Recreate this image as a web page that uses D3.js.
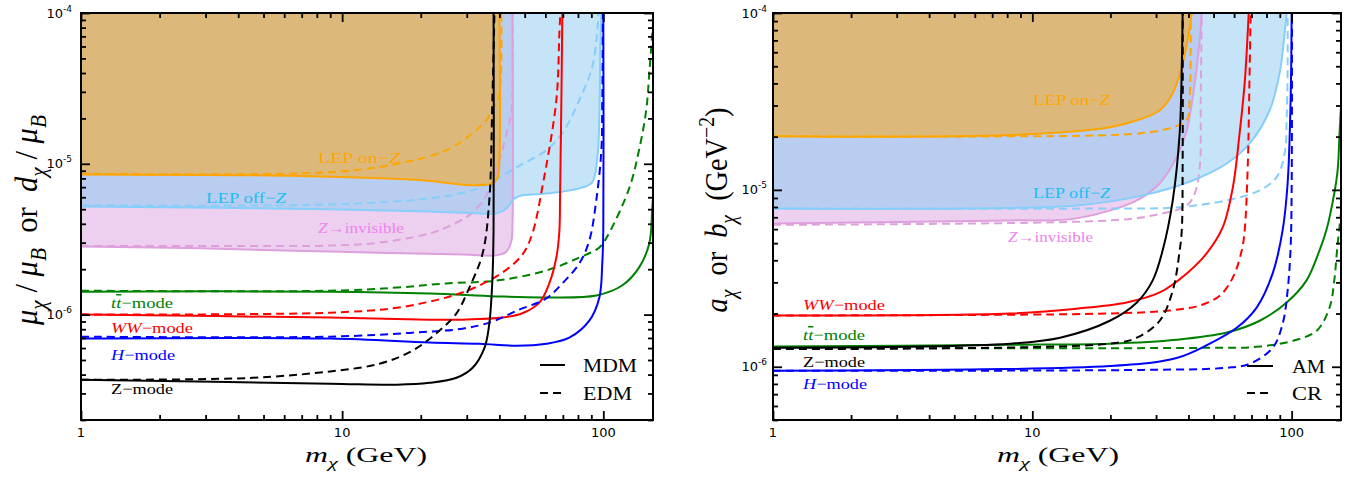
<!DOCTYPE html>
<html>
<head>
<meta charset="utf-8">
<script src="https://cdn.jsdelivr.net/npm/d3@7"></script>
<style>
  body { margin: 0; background: #fff; }
  svg { display: block; }
</style>
</head>
<body>
<svg id="chart" width="1363" height="482"></svg>
<script>
// ---------- axis data ----------
const massDomain = [1, 155];
const leftValueDomain = [2e-7, 1e-4];
const rightValueDomain = [5e-7, 1e-4];
const massMajorTicks = [1, 10, 100];
const massTickLabels = ["1", "10", "100"];
const valueMajorTicks = [1e-6, 1e-5, 1e-4];
const valueTickExponents = ["-6", "-5", "-4"];

// ---------- left panel: [m (GeV), coupling]  MDM = solid, EDM = dashed ----------
const lepOnZMdm = [[1,8.5e-6],[6.9,8.3e-6],[19.8,7.8e-6],[31.6,7.2e-6],[37.3,7.4e-6],[39.3,8.0e-6],[40,1.05e-5],[40,1e-4]];
const lepOnZEdm = [[1,8.6e-6],[9,8.8e-6],[16.2,1.0e-5],[25.1,1.23e-5],[31.6,1.6e-5],[35.7,1.95e-5],[37.6,2.27e-5],[39.6,2.7e-5],[40.5,3.6e-5],[40.7,1e-4]];
const lepOffZMdm = [[1,5.2e-6],[9,5.0e-6],[21.6,4.83e-6],[33.6,4.69e-6],[39,4.69e-6],[42.6,5.06e-6],[45.7,5.9e-6],[49,6.18e-6],[62,6.37e-6],[80.9,6.87e-6],[90.7,7.54e-6],[94.9,1.1e-5],[96.6,2.04e-5],[97.4,5.7e-5],[98.3,1e-4]];
const lepOffZEdm = [[1,5.3e-6],[9,5.38e-6],[21.6,5.9e-6],[31.6,6.67e-6],[36.6,7.42e-6],[46.5,9.48e-6],[60.5,1.23e-5],[69.7,1.6e-5],[80.9,2.64e-5],[90.7,4.38e-5],[94.9,7.7e-5],[95.7,1e-4]];
const zInvMdm = [[1,2.83e-6],[2.85,2.75e-6],[9,2.62e-6],[28.9,2.5e-6],[39,2.47e-6],[42.6,2.62e-6],[44.5,3.1e-6],[44.9,4e-6],[44.9,1e-4]];
const zInvEdm = [[1,2.85e-6],[4.4,2.85e-6],[9,2.87e-6],[13.9,3.0e-6],[21.6,3.45e-6],[25.1,3.79e-6],[31.6,4.76e-6],[36.6,6.67e-6],[40,1.05e-5],[42.9,1.67e-5],[44.5,2.17e-5],[44.9,3e-5],[44.9,1e-4]];
const ttMdm = [[1,1.42e-6],[9,1.42e-6],[21.6,1.38e-6],[39,1.32e-6],[60.5,1.3e-6],[94,1.34e-6],[118,1.56e-6],[137,2.05e-6],[150,2.96e-6],[154,5.1e-6],[156,7e-6]];
const ttEdm = [[1,1.44e-6],[9,1.44e-6],[16.2,1.51e-6],[25.1,1.61e-6],[39,1.68e-6],[60.5,1.96e-6],[80.9,2.39e-6],[96.6,2.79e-6],[105,3.45e-6],[126,6.98e-6],[137,1.23e-5],[146,2.27e-5],[150,3.99e-5],[154,7.36e-5],[156,1e-4]];
const wwMdm = [[1,1.0e-6],[9,9.55e-7],[21.6,9.26e-7],[28.9,9.26e-7],[41.1,9.55e-7],[49,1.02e-6],[56.9,1.2e-6],[62.1,1.61e-6],[66.1,2.39e-6],[67.9,3.6e-6],[68.3,6e-6],[69.1,2.64e-5],[69.7,1e-4]];
const wwEdm = [[1,1.0e-6],[9,1.03e-6],[16.2,1.11e-6],[25.1,1.3e-6],[31.6,1.49e-6],[41.1,1.9e-6],[49,2.5e-6],[53.5,3.45e-6],[58.4,6.98e-6],[66.1,2.64e-5],[67.9,7.36e-5],[68.5,1e-4]];
const hMdm = [[1,6.93e-7],[9,6.93e-7],[21.6,6.52e-7],[33.6,6.41e-7],[46.5,6.22e-7],[60.5,6.41e-7],[74.1,7.03e-7],[88.4,9.12e-7],[96.6,1.3e-6],[99.1,2.18e-6],[100,3.62e-6],[100,1e-4]];
const hEdm = [[1,7.14e-7],[9,7.14e-7],[18.6,7.59e-7],[28.9,8.07e-7],[37.6,8.98e-7],[46.5,1.06e-6],[60.5,1.28e-6],[69.7,1.61e-6],[80.9,2.18e-6],[88.4,3.1e-6],[94,5.72e-6],[98.3,1.23e-5],[99.1,2.64e-5],[99.6,1e-4]];
const zMdm = [[1,3.7e-7],[9,3.48e-7],[16.2,3.43e-7],[21.6,3.53e-7],[27.4,3.81e-7],[31.6,4.44e-7],[35.1,6.04e-7],[36.6,8.71e-7],[37.6,1.68e-6],[38,3.62e-6],[38,1e-4]];
const zEdm = [[1,3.7e-7],[4.4,3.8e-7],[9,4.2e-7],[13.9,4.72e-7],[18.6,5.77e-7],[23.6,7.83e-7],[27.4,1.02e-6],[30.7,1.51e-6],[34.5,2.54e-6],[36.6,5.72e-6],[37.6,2.64e-5],[38.3,1e-4]];

// ---------- right panel: [m (GeV), coupling in GeV^-2]  AM = solid, CR = dashed ----------
const lepOnZAm = [[1,2.01e-5],[8.2,2.04e-5],[19.9,2.26e-5],[26.7,2.54e-5],[31,2.82e-5],[34.8,3.52e-5],[37.7,4.94e-5],[39.7,7.03e-5],[41.2,1e-4]];
const lepOnZCr = [[1,2.01e-5],[19.9,2.04e-5],[28.4,2.12e-5],[34.8,2.26e-5],[39.4,2.48e-5],[40.4,3.21e-5],[40.8,7.7e-5],[40.8,1e-4]];
const lepOffZAm = [[1,7.85e-6],[14.8,8.17e-6],[26.7,9.31e-6],[41.5,1.13e-5],[56.2,1.41e-5],[68.9,1.83e-5],[82.3,2.82e-5],[89.9,4.57e-5],[94,7.7e-5],[95.7,1e-4]];
const lepOffZCr = [[1,7.85e-6],[19.9,7.85e-6],[36,7.96e-6],[56.2,8.73e-6],[75.3,9.93e-6],[87.5,1.18e-5],[94,1.61e-5],[95.7,2.6e-5],[96.5,5e-5],[96.5,1e-4]];
const zInvAm = [[1,6.46e-6],[8.2,6.72e-6],[14.8,6.9e-6],[25.3,8.73e-6],[31,1.09e-5],[36,1.53e-5],[39.4,2.17e-5],[42.3,4.01e-5],[44.2,7.03e-5],[45,1e-4]];
const zInvCr = [[1,6.35e-6],[19.9,6.72e-6],[29.1,7.17e-6],[39.4,8.17e-6],[42.3,9.55e-6],[44.2,1.34e-5],[44.6,3.21e-5],[45,1e-4]];
const wwAm = [[1,1.95e-6],[8.2,2.0e-6],[14.8,2.13e-6],[23.1,2.31e-6],[31,2.63e-6],[39.4,3.37e-6],[47,4.37e-6],[54.2,6.13e-6],[59.3,1.03e-5],[63,2.09e-5],[65.9,4.01e-5],[67.7,7.7e-5],[68.3,1e-4]];
const wwCr = [[1,1.95e-6],[19.9,2.0e-6],[33.9,2.08e-6],[44.2,2.22e-6],[52.8,2.52e-6],[59.3,3.19e-6],[64.2,4.54e-6],[65.9,5.9e-6],[67.7,1.34e-5],[68.9,4.94e-5],[69.5,1e-4]];
const ttAm = [[1,1.3e-6],[8.2,1.33e-6],[19.9,1.35e-6],[36,1.42e-6],[56.2,1.56e-6],[75.3,1.82e-6],[95.7,2.31e-6],[114,3.07e-6],[128,4.54e-6],[136,5.9e-6],[140,6.99e-6],[150,1.24e-5],[153,2.09e-5],[156,3.5e-5]];
const ttCr = [[1,1.28e-6],[48.3,1.28e-6],[75.3,1.3e-6],[104.5,1.42e-6],[125,1.6e-6],[140,2.16e-6],[146,3.07e-6],[150,4.73e-6],[156,8e-6]];
const hAm = [[1,9.49e-7],[19.9,1.01e-6],[36,1.12e-6],[48.3,1.35e-6],[61.4,1.66e-6],[73.3,2.16e-6],[84.5,3.37e-6],[92.3,5.9e-6],[96.5,1.09e-5],[99.1,3.21e-5],[100,1e-4]];
const hCr = [[1,9.49e-7],[26.7,9.6e-7],[56.2,9.87e-7],[68.9,1.04e-6],[84.5,1.28e-6],[92.3,1.75e-6],[96.5,2.7e-6],[99.1,4.73e-6],[100,1e-5],[100.3,1e-4]];
const zAm = [[1,1.28e-6],[8.2,1.35e-6],[12.8,1.46e-6],[19.9,1.82e-6],[25.3,2.31e-6],[29.1,3.07e-6],[31.8,4.54e-6],[34.8,8.73e-6],[37,2.09e-5],[37.7,4.94e-5],[38,1e-4]];
const zCr = [[1,1.26e-6],[19.9,1.35e-6],[25.3,1.46e-6],[31,1.82e-6],[34.8,2.7e-6],[37,4.54e-6],[37.7,5.9e-6],[38,1.5e-5],[38,1e-4]];

// ---------- colours ----------
const ORANGE = "#ffa500", SKY = "#87cefa", PLUM = "#dda0dd";
const GREEN = "#008000", RED = "#ff0000", BLUE = "#0000ff", BLACK = "#000000";
const FILL_ORANGE = "#dcb97b", FILL_SKY = "#c5e4f8", FILL_PLUM = "#edcfef", FILL_MIX = "#b9cdf1";

// ---------- label texts (rich parts) ----------
const T = (t, o = {}) => Object.assign({ t }, o);
const txtLepOn  = [T("LEP on−"), T("Z", { i: 1 })];
const txtLepOff = [T("LEP off−"), T("Z", { i: 1 })];
const txtZinv   = [T("Z", { i: 1 }), T("→invisible")];
const txtTT     = [T("t", { i: 1 }), T("t", { i: 1, bar: 1 }), T("−mode")];
const txtWW     = [T("WW", { i: 1 }), T("−mode")];
const txtH      = [T("H", { i: 1 }), T("−mode")];
const txtZ      = [T("Z"), T("−mode")];

const panels = [
  {
    id: "L", left: 81, right: 653, top: 13, bottom: 420, yDomain: leftValueDomain,
    tickLabelGap: 9,
    onZ: lepOnZMdm, offZ: lepOffZMdm, zInv: zInvMdm,
    series: [
      [zInvMdm, PLUM, 0], [zInvEdm, PLUM, 1],
      [lepOffZMdm, SKY, 0], [lepOffZEdm, SKY, 1],
      [lepOnZMdm, ORANGE, 0], [lepOnZEdm, ORANGE, 1],
      [ttMdm, GREEN, 0], [ttEdm, GREEN, 1],
      [wwMdm, RED, 0], [wwEdm, RED, 1],
      [hMdm, BLUE, 0], [hEdm, BLUE, 1],
      [zMdm, BLACK, 0], [zEdm, BLACK, 1]
    ],
    labels: [
      [txtLepOn, ORANGE, 237, 150, 82], [txtLepOff, "#1ebdf2", 125, 190, 80],
      [txtZinv, "#ee82ee", 237, 220, 86], [txtTT, GREEN, 30, 295, 62],
      [txtWW, RED, 30, 320, 82], [txtH, BLUE, 30, 347, 64], [txtZ, BLACK, 30, 381, 62]
    ],
    legend: { x0: 459, x1: 484, tx: 502, rows: [["MDM", 352, 54], ["EDM", 380, 49]] },
    yTitle: { x: 37, y: 220, len: 210,
      parts: [T("μ", { i: 1 }), T("χ", { i: 1, sub: 1 }), T(" / "), T("μ", { i: 1 }), T("B", { i: 1, sub: 1 }),
              T("  or  "), T("d", { i: 1 }), T("χ", { i: 1, sub: 1 }), T(" / "), T("μ", { i: 1 }), T("B", { i: 1, sub: 1 })] }
  },
  {
    id: "R", left: 773, right: 1341, top: 13, bottom: 420, yDomain: rightValueDomain,
    tickLabelGap: 6,
    onZ: lepOnZAm, offZ: lepOffZAm, zInv: zInvAm,
    series: [
      [zInvAm, PLUM, 0], [zInvCr, PLUM, 1],
      [lepOffZAm, SKY, 0], [lepOffZCr, SKY, 1],
      [lepOnZAm, ORANGE, 0], [lepOnZCr, ORANGE, 1],
      [ttAm, GREEN, 0], [ttCr, GREEN, 1],
      [wwAm, RED, 0], [wwCr, RED, 1],
      [hAm, BLUE, 0], [hCr, BLUE, 1],
      [zAm, BLACK, 0], [zCr, BLACK, 1]
    ],
    labels: [
      [txtLepOn, ORANGE, 260, 92, 77], [txtLepOff, "#1ebdf2", 260, 185, 77],
      [txtZinv, "#ee82ee", 235, 229, 85], [txtWW, RED, 30, 297, 82],
      [txtTT, GREEN, 30, 327, 62], [txtZ, BLACK, 30, 354, 62], [txtH, BLUE, 30, 376, 64]
    ],
    legend: { x0: 474, x1: 500, tx: 519, rows: [["AM", 353, 33], ["CR", 380, 30]] },
    yTitle: { x: 727, y: 210, len: 205,
      parts: [T("a", { i: 1 }), T("χ", { i: 1, sub: 1 }), T("  or  "), T("b", { i: 1 }), T("χ", { i: 1, sub: 1 }),
              T("  (GeV"), T("−2", { sup: 1 }), T(")")] }
  }
];

const SERIF = "'Liberation Serif', 'DejaVu Serif', serif";
const SANS = "'DejaVu Sans', sans-serif";

const svg = d3.select("#chart");
const defs = svg.append("defs");

// tspans with italics / sub / superscripts
function rich(sel, parts, size) {
  let shift = 0;
  parts.forEach(p => {
    const small = p.sub || p.sup;
    const target = p.sub ? size * 0.28 : p.sup ? -size * 0.42 : 0;
    const ts = sel.append("tspan").text(p.t).attr("font-size", small ? size * 0.7 : size);
    if (target !== shift) ts.attr("dy", target - shift);
    shift = target;
    if (p.i) ts.attr("font-style", "italic");
    if (p.bar) ts.style("text-decoration", "overline");
  });
}

function minorTicks(domain) {
  const out = [];
  for (let e = Math.floor(Math.log10(domain[0])); e < Math.log10(domain[1]); e++) {
    for (let k = 2; k <= 9; k++) {
      const v = k * Math.pow(10, e);
      if (v >= domain[0] * 0.999 && v <= domain[1]) out.push(v);
    }
  }
  return out;
}

function drawPanel(p) {
  const x = d3.scaleLog().domain(massDomain).range([p.left, p.right]);
  const y = d3.scaleLog().domain(p.yDomain).range([p.bottom, p.top]);
  const g = svg.append("g");

  const clipId = "clip" + p.id;
  defs.append("clipPath").attr("id", clipId).append("rect")
    .attr("x", p.left).attr("y", p.top)
    .attr("width", p.right - p.left).attr("height", p.bottom - p.top);

  const plot = g.append("g").attr("clip-path", `url(#${clipId})`);
  const line = d3.line().x(d => x(d[0])).y(d => y(d[1])).curve(d3.curveCatmullRom.alpha(0.5));
  const region = pts => line(pts) + `L${x(massDomain[0])},${y(p.yDomain[1])}Z`;

  // excluded regions
  plot.append("path").attr("d", region(p.zInv)).attr("fill", FILL_PLUM);
  plot.append("path").attr("d", region(p.offZ)).attr("fill", FILL_SKY);
  const mixId = "mix" + p.id;
  defs.append("clipPath").attr("id", mixId).append("path").attr("d", region(p.zInv));
  plot.append("path").attr("d", region(p.offZ)).attr("fill", FILL_MIX).attr("clip-path", `url(#${mixId})`);
  plot.append("path").attr("d", region(p.onZ)).attr("fill", FILL_ORANGE);

  // curves
  p.series.forEach(([data, color, dashed]) => {
    plot.append("path").attr("d", line(data))
      .attr("fill", "none").attr("stroke", color).attr("stroke-width", 2)
      .attr("stroke-dasharray", dashed ? "8,5" : null);
  });

  // region / mode labels
  p.labels.forEach(([parts, color, dx, dy, len]) => {
    const t = g.append("text").attr("x", p.left + dx).attr("y", p.top + dy)
      .attr("fill", color).attr("font-family", SERIF).attr("font-size", 15)
      .attr("textLength", len).attr("lengthAdjust", "spacingAndGlyphs")
      .style("white-space", "pre");
    rich(t, parts, 15);
  });

  // legend
  p.legend.rows.forEach(([name, dy, len], i) => {
    g.append("line")
      .attr("x1", p.left + p.legend.x0).attr("x2", p.left + p.legend.x1)
      .attr("y1", p.top + dy).attr("y2", p.top + dy)
      .attr("stroke", BLACK).attr("stroke-width", 2)
      .attr("stroke-dasharray", i ? "8,5" : null);
    g.append("text").attr("x", p.left + p.legend.tx).attr("y", p.top + dy + 7)
      .attr("font-family", SERIF).attr("font-size", 19)
      .attr("textLength", len).attr("lengthAdjust", "spacingAndGlyphs")
      .text(name);
  });

  // ticks (inward, all four sides)
  const tickGroups = [
    [d3.axisBottom(x), `translate(0,${p.bottom})`, massMajorTicks, minorTicks(massDomain)],
    [d3.axisTop(x), `translate(0,${p.top})`, massMajorTicks, minorTicks(massDomain)],
    [d3.axisLeft(y), `translate(${p.left},0)`, valueMajorTicks, minorTicks(p.yDomain)],
    [d3.axisRight(y), `translate(${p.right},0)`, valueMajorTicks, minorTicks(p.yDomain)]
  ];
  tickGroups.forEach(([axis, tr, majors, minors]) => {
    [[majors, 9], [minors, 5]].forEach(([vals, len]) => {
      const a = g.append("g").attr("transform", tr)
        .call(axis.tickValues(vals).tickSize(-len).tickFormat(""));
      a.select(".domain").remove();
      a.selectAll("line").attr("stroke", BLACK).attr("stroke-width", 1.8);
    });
  });

  // frame
  g.append("rect").attr("x", p.left).attr("y", p.top)
    .attr("width", p.right - p.left).attr("height", p.bottom - p.top)
    .attr("fill", "none").attr("stroke", BLACK).attr("stroke-width", 2);

  // tick labels
  massMajorTicks.forEach((v, i) => {
    g.append("text").attr("x", x(v)).attr("y", p.bottom + 17)
      .attr("text-anchor", "middle").attr("font-family", SANS).attr("font-size", 13)
      .text(massTickLabels[i]);
  });
  valueMajorTicks.forEach((v, i) => {
    if (v < p.yDomain[0]) return;
    const t = g.append("text").attr("x", p.left - p.tickLabelGap).attr("y", y(v) + 4.5)
      .attr("text-anchor", "end").attr("font-family", SANS).attr("font-size", 13);
    t.append("tspan").text("10");
    t.append("tspan").text(valueTickExponents[i]).attr("font-size", 9).attr("dy", -6);
  });

  // x title
  const xt = g.append("text").attr("x", p.left + 224).attr("y", 462)
    .attr("font-family", SERIF).attr("font-size", 21)
    .attr("textLength", 122).attr("lengthAdjust", "spacingAndGlyphs")
    .style("white-space", "pre");
  rich(xt, [T("m", { i: 1 }), T("χ", { i: 1, sub: 1 }), T(" (GeV)")], 21);

  // y title (rotated, glyphs stretched across)
  const yt = g.append("text")
    .attr("transform", `translate(${p.yTitle.x},${p.yTitle.y}) rotate(-90) scale(1,1.45)`)
    .attr("text-anchor", "middle").attr("font-family", SERIF).attr("font-size", 22)
    .attr("textLength", p.yTitle.len).attr("lengthAdjust", "spacingAndGlyphs")
    .style("white-space", "pre");
  rich(yt, p.yTitle.parts, 22);
}

panels.forEach(drawPanel);
</script>
</body>
</html>
